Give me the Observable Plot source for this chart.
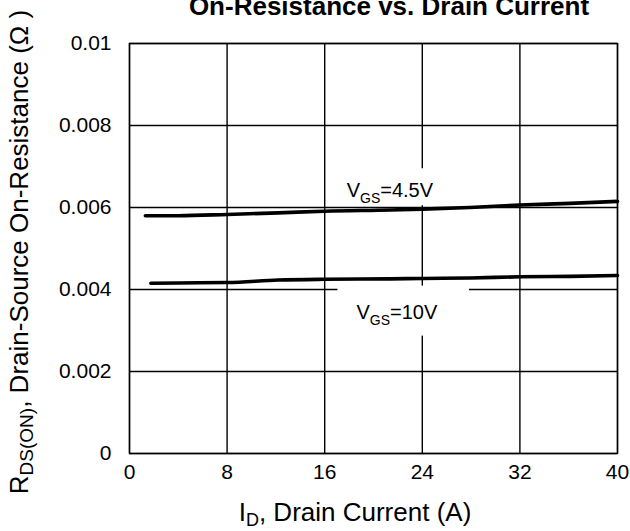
<!DOCTYPE html>
<html><head><meta charset="utf-8">
<script src="https://cdn.jsdelivr.net/npm/d3@7"></script>
<script src="https://cdn.jsdelivr.net/npm/@observablehq/plot@0.6"></script>
<style>body{margin:0;background:#fff}</style>
</head><body><div id="chart"></div>
<script>
// ---- data ----
const currentVgs45 = [1.3, 4, 8, 12.2, 16, 21.4, 24, 27.9, 32, 36.1, 40];
const rdsVgs45     = [0.00580, 0.00580, 0.00583, 0.00587, 0.00591, 0.00594, 0.00596, 0.00600, 0.00606, 0.00610, 0.00615];
const currentVgs10 = [1.75, 4, 8, 12.2, 16, 21.4, 24, 27.9, 32, 36.1, 40];
const rdsVgs10     = [0.004154, 0.00416, 0.00417, 0.00423, 0.00425, 0.00426, 0.00427, 0.00428, 0.00431, 0.00432, 0.00434];

const xTicks = [0, 8, 16, 24, 32, 40];
const xTickLabels = ["0", "8", "16", "24", "32", "40"];
const yTicks = [0, 0.002, 0.004, 0.006, 0.008, 0.01];
const yTickLabels = ["0", "0.002", "0.004", "0.006", "0.008", "0.01"];

const seriesNames = ["VGS=4.5V", "VGS=10V"];
const labelMain = ["V", "V"];
const labelSub = ["GS", "GS"];
const labelRest = ["=4.5V", "=10V"];
const labelCurrent = [17.8, 18.6];
const labelRds = [0.00625, 0.00329];

const titleText = "On-Resistance vs. Drain Current";
const xLabelMain = "I", xLabelSub = "D", xLabelRest = ", Drain Current (A)";
const yLabelMain = "R", yLabelSub = "DS(ON)", yLabelRest = ", Drain-Source On-Resistance (Ω )";

// ---- build tables ----
const rows = [
  ...currentVgs45.map((c, i) => ({series: seriesNames[0], current: c, rds: rdsVgs45[i]})),
  ...currentVgs10.map((c, i) => ({series: seriesNames[1], current: c, rds: rdsVgs10[i]}))
];
const labels = seriesNames.map((s, i) => ({text: s, current: labelCurrent[i], rds: labelRds[i], idx: i}));

const FONT = "'Liberation Sans', Arial, Helvetica, sans-serif";

const plot = Plot.plot({
  width: 630,
  height: 531,
  marginLeft: 129,
  marginRight: 13,
  marginTop: 43,
  marginBottom: 78,
  style: `font-family:${FONT};font-size:21px;background:#fff;color:#000;`,
  x: {domain: [0, 40], label: null},
  y: {domain: [0, 0.01], label: null},
  marks: [
    Plot.gridX(xTicks, {stroke: "#000", strokeOpacity: 1, strokeWidth: 1.4}),
    Plot.gridY(yTicks, {stroke: "#000", strokeOpacity: 1, strokeWidth: 1.4}),
    Plot.frame({stroke: "#000", strokeWidth: 1.4}),
    Plot.axisX(xTicks, {tickSize: 0, tickPadding: 11, label: null, fontSize: 21,
      tickFormat: d => xTickLabels[xTicks.indexOf(d)]}),
    Plot.axisY(yTicks, {tickSize: 0, tickPadding: 18, label: null, fontSize: 21,
      tickFormat: d => yTickLabels[yTicks.indexOf(d)]}),
    Plot.text(labels, {x: "current", y: "rds", text: "text", textAnchor: "start", fontSize: 20, fill: "#000"}),
    Plot.line(rows, {x: "current", y: "rds", z: "series", stroke: "#000", strokeWidth: 3.6,
      curve: "monotone-x", strokeLinecap: "round"})
  ]
});

document.getElementById("chart").appendChild(plot);
const svg = d3.select(plot);

// rebuild the curve labels with subscripts and white boxes behind them
svg.selectAll("text").filter(function () { return seriesNames.includes(this.textContent); })
  .each(function () {
    const i = seriesNames.indexOf(this.textContent);
    const t = d3.select(this);
    t.attr("dy", null).attr("y", null).text(null);
    t.append("tspan").text(labelMain[i]);
    t.append("tspan").attr("font-size", 14).attr("dy", 6).text(labelSub[i]);
    t.append("tspan").attr("dy", -6).text(labelRest[i]);
    const b = this.getBBox();
    const padTop = i === 0 ? 11 : 15, padLeft = 19, padRight = 31, padBottom = i === 0 ? -1 : 8;
    const r = document.createElementNS("http://www.w3.org/2000/svg", "rect");
    r.setAttribute("x", b.x - padLeft);
    r.setAttribute("y", b.y - padTop);
    r.setAttribute("width", b.width + padLeft + padRight);
    r.setAttribute("height", b.height + padTop + padBottom);
    r.setAttribute("fill", "#fff");
    if (this.getAttribute("transform")) r.setAttribute("transform", this.getAttribute("transform"));
    this.parentNode.insertBefore(r, this);
  });

// title
svg.append("text")
  .attr("x", 389).attr("y", 15)
  .attr("text-anchor", "middle")
  .attr("font-weight", "bold").attr("font-size", 26).attr("fill", "#000")
  .text(titleText);

// x label
const xl = svg.append("text")
  .attr("x", 355).attr("y", 521)
  .attr("text-anchor", "middle").attr("font-size", 26).attr("fill", "#000");
xl.append("tspan").text(xLabelMain);
xl.append("tspan").attr("font-size", 18).attr("dy", 5).text(xLabelSub);
xl.append("tspan").attr("dy", -5).text(xLabelRest);

// y label
const yl = svg.append("text")
  .attr("transform", "translate(28,252) rotate(-90)")
  .attr("text-anchor", "middle").attr("font-size", 26).attr("fill", "#000");
yl.append("tspan").text(yLabelMain);
yl.append("tspan").attr("font-size", 19).attr("dy", 5).text(yLabelSub);
yl.append("tspan").attr("dy", -5).text(yLabelRest);
</script>
</body></html>
